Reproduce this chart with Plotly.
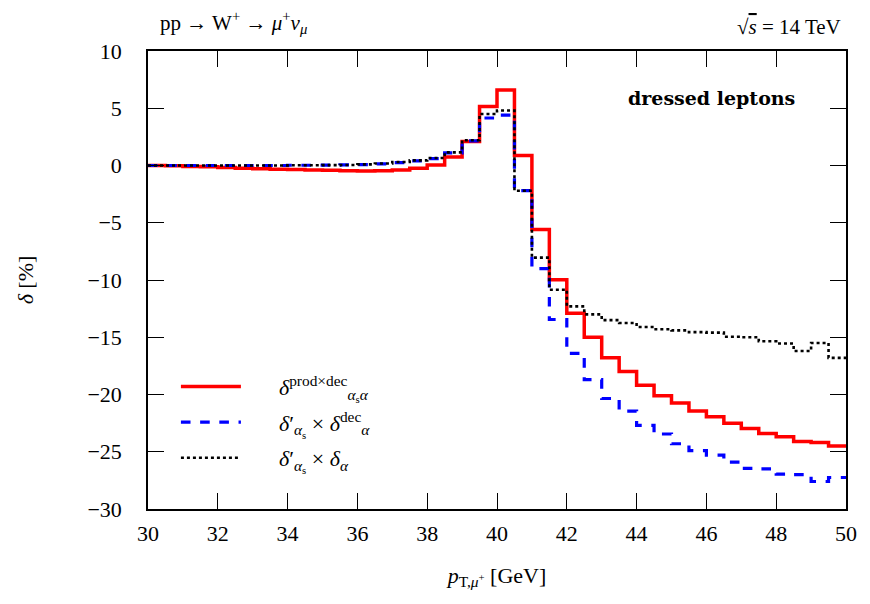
import plotly.graph_objects as go

# bin edges, 0.5 GeV wide, 30..50 GeV
edges = [30 + 0.5 * i for i in range(41)]

# delta [%] per bin
prod_dec = [0.0, -0.02, -0.08, -0.12, -0.18, -0.23, -0.28, -0.32, -0.36, -0.40,
            -0.42, -0.45, -0.47, -0.45, -0.40, -0.25, 0.05, 0.75, 2.1, 5.15,
            6.6, 0.88, -5.6, -9.97, -12.9, -15.0, -16.8, -18.0, -19.2, -20.1,
            -20.75, -21.45, -21.95, -22.5, -22.97, -23.4, -23.7, -24.1, -24.2, -24.5]
fact_dec = [0.0, 0.0, 0.0, 0.0, 0.0, 0.0, 0.0, 0.0, 0.02, 0.02,
            0.03, 0.05, 0.08, 0.15, 0.25, 0.4, 0.6, 1.1, 2.15, 4.15,
            4.4, -2.2, -9.0, -13.45, -16.4, -18.7, -20.35, -21.45, -22.7, -23.45,
            -24.3, -24.9, -25.3, -25.9, -26.45, -26.5, -26.95, -27.0, -27.6, -27.25]
fact_full = [0.0, 0.0, 0.0, 0.0, 0.0, 0.0, 0.0, 0.0, 0.02, 0.02,
             0.03, 0.05, 0.1, 0.18, 0.3, 0.45, 0.65, 1.15, 2.2, 4.5,
             4.8, -2.2, -8.05, -10.85, -12.3, -13.0, -13.5, -13.75, -14.1, -14.3,
             -14.4, -14.55, -14.6, -14.95, -15.0, -15.35, -15.55, -16.2, -15.5, -16.8]

names = ["\u2003\u2002<i>δ</i><sup>prod×dec</sup><sub><i>α</i><sub>s</sub><i>α</i></sub>",
         "\u2003\u2002<i>δ</i>′<sub><i>α</i><sub>s</sub></sub> × <i>δ</i><sup>dec</sup><sub><i>α</i></sub>",
         "\u2003\u2002<i>δ</i>′<sub><i>α</i><sub>s</sub></sub> × <i>δ</i><sub><i>α</i></sub>"]

FONT = "Liberation Serif, DejaVu Serif, serif"

fig = go.Figure()
for i, (vals, col, dash, w) in enumerate([(prod_dec, "#ff0000", "solid", 3.5),
                                           (fact_dec, "#0000ff", "dash", 3.2),
                                           (fact_full, "black", "dot", 2.6)]):
    fig.add_trace(go.Scatter(x=edges, y=vals + [vals[-1]], mode="lines", name=names[i],
                             legendgroup=str(i),
                             line=dict(shape="hv", color=col, dash=dash, width=w)))

axis = dict(showline=True, mirror="ticks", linecolor="black", linewidth=1.5,
            ticks="inside", ticklen=16, tickwidth=1.2, tickcolor="black",
            showgrid=False, zeroline=False, tickfont=dict(size=22, family=FONT, color="black"))

fig.update_xaxes(range=[30, 50], dtick=2, ticklabelstandoff=4, **axis,
                 title=dict(text="<i>p</i><sub>T,<i>μ</i><sup>+</sup></sub> [GeV]",
                            font=dict(size=22, family=FONT, color="black"), standoff=22))
fig.update_yaxes(range=[-30, 10], dtick=5, ticklabelstandoff=20, **axis,
                 title=dict(text="<i>δ</i> [%]", font=dict(size=22, family=FONT, color="black"),
                            standoff=48))

fig.add_annotation(x=0.015, y=1.0, xref="paper", yref="paper", xanchor="left", yanchor="bottom",
                   yshift=12, showarrow=False,
                   text="pp → W<sup>+</sup> → <i>μ</i><sup>+</sup><i>ν</i><sub><i>μ</i></sub>",
                   font=dict(size=21, family=FONT, color="black"))
fig.add_annotation(x=0.995, y=1.0, xref="paper", yref="paper", xanchor="right", yanchor="bottom",
                   yshift=10, showarrow=False,
                   text="√<span style='text-decoration:overline'><i>s</i></span> = 14 TeV",
                   font=dict(size=21, family=FONT, color="black"))
fig.add_annotation(x=0.93, y=0.897, xref="paper", yref="paper", xanchor="right", yanchor="middle",
                   showarrow=False, text="<b>dressed leptons</b>",
                   font=dict(size=19, family="DejaVu Serif, serif", color="black"))

# page body has an 8px margin, so the figure is shifted; size and margins compensate
fig.update_layout(width=862, height=596, plot_bgcolor="white", paper_bgcolor="white",
                  margin=dict(l=140, r=24, t=43, b=95),
                  font=dict(family=FONT, color="black"),
                  showlegend=True,
                  legend=dict(x=0.04, y=0.066, xanchor="left", yanchor="bottom",
                              bgcolor="rgba(0,0,0,0)", font=dict(size=22, family=FONT),
                              itemwidth=60, tracegroupgap=4))

fig.write_html("out.html")
